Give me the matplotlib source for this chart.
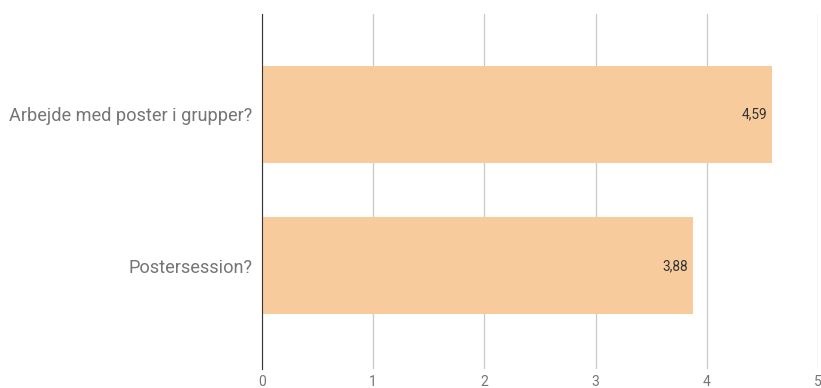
import matplotlib
matplotlib.use("Agg")
import matplotlib.pyplot as plt

plt.rcParams["font.family"] = ["Roboto", "DejaVu Sans"]

# data
categories = ["Arbejde med poster i grupper?", "Postersession?"]
values = [4.59, 3.88]
xticks = [0, 1, 2, 3, 4, 5]

BAR = "#F8CB9C"
GRID = "#CCCCCC"
TXT = "#757575"

fig = plt.figure(figsize=(8.21, 3.88), dpi=100)
ax = fig.add_axes([262 / 821, 1 - 369 / 388, 556 / 821, 355 / 388])

ypos = list(range(len(categories)))
ax.barh(ypos, values, height=0.64, color=BAR, zorder=2)
for y, v in zip(ypos, values):
    ax.text(v - 0.05, y, f"{v:.2f}".replace(".", ","), ha="right", va="center",
            fontsize=9.8, color="#333333", zorder=3)

ax.set_xlim(0, 5)
ax.set_ylim(1.68, -0.663)
ax.set_xticks(xticks)
ax.set_xticklabels([str(t) for t in xticks])
ax.set_yticks(ypos)
ax.set_yticklabels(categories)
ax.tick_params(axis="x", length=0, pad=4, labelsize=10, labelcolor=TXT)
ax.tick_params(axis="y", length=0, pad=7, labelsize=13.1, labelcolor=TXT)
ax.grid(axis="x", color=GRID, linewidth=1, zorder=0)
for s in ("top", "right", "bottom"):
    ax.spines[s].set_visible(False)
ax.spines["left"].set_color("#333333")
ax.spines["left"].set_zorder(4)

fig.savefig("out.png", dpi=100)
